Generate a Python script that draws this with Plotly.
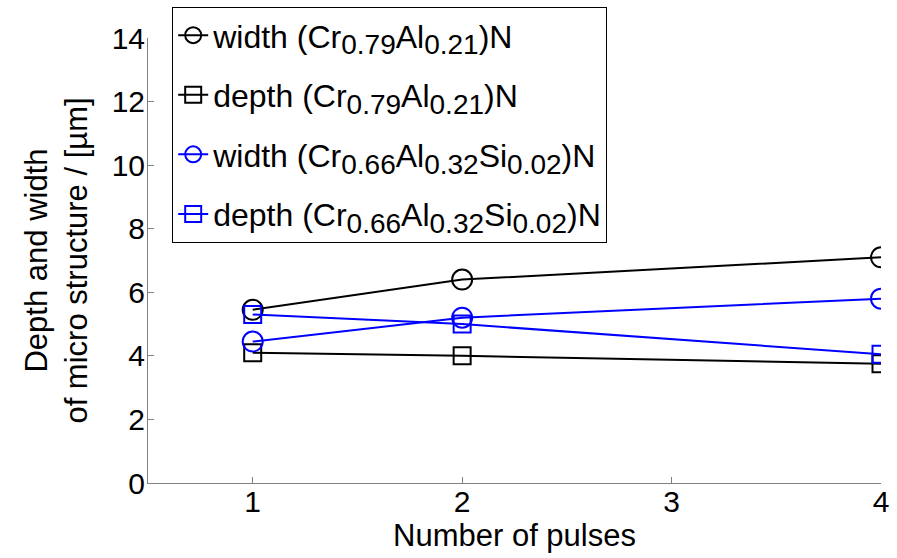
import plotly.graph_objects as go

pulses = [1, 2, 4]
width_CrAlN = [5.45, 6.4, 7.1]
depth_CrAlN = [4.1, 4.0, 3.75]
width_CrAlSiN = [4.45, 5.2, 5.8]
depth_CrAlSiN = [5.3, 5.0, 4.05]


def sub(t):
    return '<sub><span style="font-size:28px">' + t + '</span></sub>'


names = [
    "width (Cr" + sub("0.79") + "Al" + sub("0.21") + ")N",
    "depth (Cr" + sub("0.79") + "Al" + sub("0.21") + ")N",
    "width (Cr" + sub("0.66") + "Al" + sub("0.32") + "Si" + sub("0.02") + ")N",
    "depth (Cr" + sub("0.66") + "Al" + sub("0.32") + "Si" + sub("0.02") + ")N",
]
series = [width_CrAlN, depth_CrAlN, width_CrAlSiN, depth_CrAlSiN]
colors = ["black", "black", "#0000ff", "#0000ff"]
symbols = ["circle-open", "square-open", "circle-open", "square-open"]
sizes = [20, 17, 20, 17]

fig = go.Figure()
for i, (name, ys, c, s, sz) in enumerate(zip(names, series, colors, symbols, sizes)):
    fig.add_trace(go.Scatter(
        x=pulses, y=ys, name=name, mode="lines+markers", legendgroup=f"g{i}",
        line=dict(color=c, width=2),
        marker=dict(symbol=s, size=sz, color=c, line=dict(color=c, width=2)),
    ))

font = "Arial, Liberation Sans, sans-serif"
fig.update_layout(
    width=897, height=558,
    margin=dict(l=148, r=16, t=38, b=75, autoexpand=False),
    paper_bgcolor="white", plot_bgcolor="white",
    font=dict(family=font, size=30, color="black"),
    showlegend=True,
    legend=dict(
        x=0.033, y=1.07, xanchor="left", yanchor="top",
        bgcolor="white", bordercolor="black", borderwidth=1,
        font=dict(size=32), tracegroupgap=15, itemwidth=30,
    ),
    xaxis=dict(
        range=[0.5, 4], tickvals=[1, 2, 3, 4], ticktext=["1", "2", "3", "4"],
        showgrid=False, zeroline=False, showline=True, linecolor="#808080", linewidth=1,
        ticks="inside", ticklen=6, tickcolor="#808080", automargin=False,
        ticklabelstandoff=-8,
        title=dict(text="Number of pulses", standoff=0, font=dict(size=31)),
        tickfont=dict(size=30),
    ),
    yaxis=dict(
        range=[0, 14], tickvals=[0, 2, 4, 6, 8, 10, 12, 14],
        showgrid=False, zeroline=False, showline=True, linecolor="#808080", linewidth=1,
        ticks="inside", ticklen=6, tickcolor="#808080", automargin=False,
        ticklabelstandoff=-4,
        title=dict(text="Depth and width<br>of micro structure / [µm]", standoff=14, font=dict(size=31)),
        tickfont=dict(size=30),
    ),
)

fig.write_html("out.html", config={"displayModeBar": False},
               post_script="document.body.style.margin='0';")
